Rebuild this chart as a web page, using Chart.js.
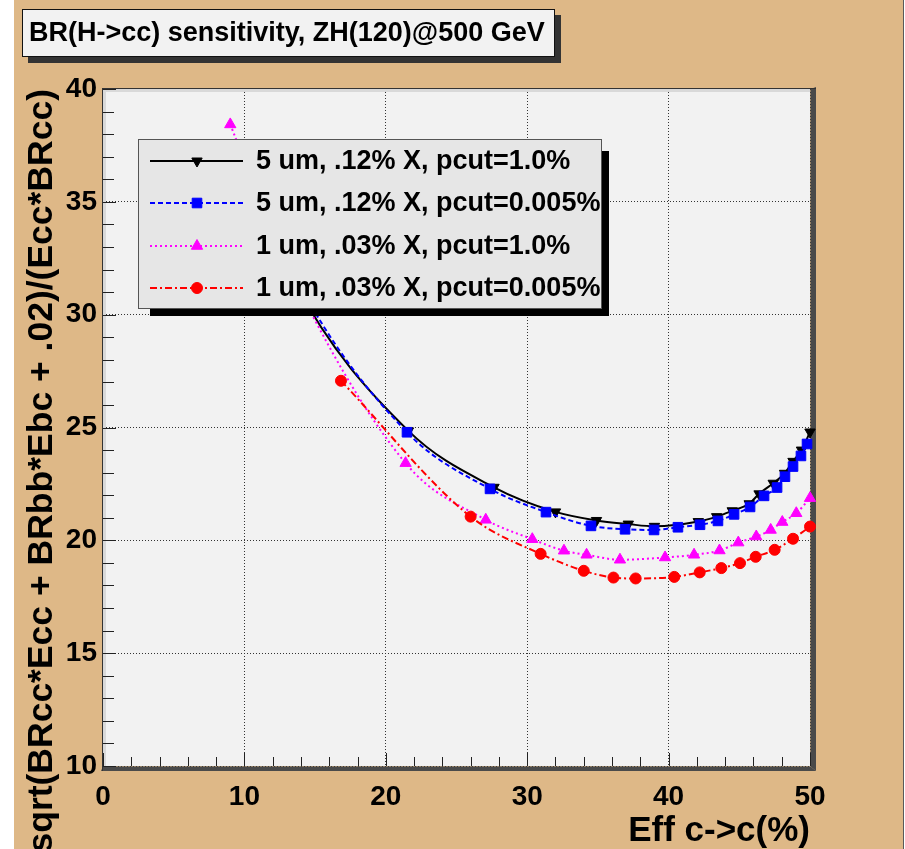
<!DOCTYPE html>
<html>
<head>
<meta charset="utf-8">
<script src="https://cdn.jsdelivr.net/npm/chart.js@4.4.0/dist/chart.umd.min.js"></script>
<style>
html,body{margin:0;padding:0;background:#ffffff;}
#wrap{width:905px;height:849px;position:relative;overflow:hidden;}
canvas{display:block;}
</style>
</head>
<body>
<div id="wrap"><canvas id="c" width="905" height="849"></canvas></div>
<script>
// ---------------- data ----------------
const chartTitle = 'BR(H->cc) sensitivity, ZH(120)@500 GeV';
const xAxisTitle = 'Eff c->c(%)';
const yAxisTitle = 'sqrt(BRcc*Ecc + BRbb*Ebc + .02)/(Ecc*BRcc)';
const xTickValues = [0, 10, 20, 30, 40, 50];
const yTickValues = [10, 15, 20, 25, 30, 35, 40];
const seriesNames = [
  '5 um, .12% X, pcut=1.0%',
  '5 um, .12% X, pcut=0.005%',
  '1 um, .03% X, pcut=1.0%',
  '1 um, .03% X, pcut=0.005%'
];
const blackX = [11.5, 13.5, 21.6, 27.65, 32.0, 34.9, 37.15, 39.0, 42.1, 43.4, 44.5, 45.7, 46.4, 47.4, 48.2, 48.8, 49.4, 50.0];
const blackY = [34.6, 31.5, 24.85, 22.35, 21.26, 20.88, 20.72, 20.62, 20.83, 21.05, 21.31, 21.62, 22.06, 22.53, 22.97, 23.5, 24.0, 24.8];
const blueX = [11.5, 13.5, 21.5, 27.37, 31.33, 34.51, 36.92, 38.97, 40.66, 42.22, 43.49, 44.63, 45.76, 46.75, 47.67, 48.23, 48.80, 49.36, 49.79];
const blueY = [34.9, 31.8, 24.79, 22.28, 21.25, 20.64, 20.49, 20.46, 20.58, 20.69, 20.86, 21.15, 21.48, 21.97, 22.34, 22.82, 23.27, 23.74, 24.27];
const magentaX = [9.0, 12.5, 21.4, 27.07, 30.36, 32.6, 34.2, 36.56, 39.75, 41.8, 43.6, 44.93, 46.2, 47.22, 48.04, 49.03, 50.0];
const magentaY = [38.43, 32.9, 23.42, 20.91, 20.05, 19.54, 19.36, 19.14, 19.24, 19.36, 19.55, 19.9, 20.17, 20.46, 20.81, 21.2, 21.87];
const redX = [16.83, 26.0, 30.95, 34.0, 36.1, 37.67, 40.4, 42.2, 43.73, 45.05, 46.16, 47.5, 48.8, 50.0];
const redY = [27.07, 21.05, 19.4, 18.65, 18.35, 18.31, 18.38, 18.58, 18.77, 18.99, 19.27, 19.58, 20.07, 20.61];

// ---------------- styles ----------------
const FONT = '"Liberation Sans", Arial, Helvetica, sans-serif';
const styles = [
  {color:'#000000', dash:[], pointStyle:'triangle', rotation:180, radius:6},
  {color:'#0000ff', dash:[5,3], pointStyle:'rect', rotation:0, radius:6.8},
  {color:'#ff00ff', dash:[2,3], pointStyle:'triangle', rotation:0, radius:6.5},
  {color:'#ff0000', dash:[7,3,2,3], pointStyle:'circle', rotation:0, radius:5.5}
];
const seriesX = [blackX, blueX, magentaX, redX];
const seriesY = [blackY, blueY, magentaY, redY];

function makeDataset(i) {
  const s = styles[i];
  return {
    label: seriesNames[i],
    data: seriesX[i].map((x, k) => ({x: x, y: seriesY[i][k]})),
    borderColor: s.color,
    backgroundColor: s.color,
    borderWidth: 2,
    borderDash: s.dash,
    pointStyle: s.pointStyle,
    pointRotation: s.rotation,
    pointRadius: s.radius,
    pointBorderWidth: 1,
    pointBorderColor: s.color,
    pointBackgroundColor: s.color,
    cubicInterpolationMode: 'monotone',
    fill: false,
    clip: false,
    order: 4 - i
  };
}

function drawMarker(ctx, s, x, y) {
  ctx.fillStyle = s.color;
  ctx.strokeStyle = s.color;
  ctx.lineWidth = 1;
  ctx.setLineDash([]);
  if (Chart.helpers && Chart.helpers.drawPoint) {
    Chart.helpers.drawPoint(ctx, {pointStyle: s.pointStyle, radius: s.radius, rotation: s.rotation, borderWidth: 1}, x, y);
  }
}

const rootFrame = {
  id: 'rootFrame',
  beforeDraw(chart) {
    const {ctx, chartArea: a} = chart;
    ctx.save();
    ctx.fillStyle = '#ffffff';
    ctx.fillRect(0, 0, chart.width, chart.height);
    ctx.fillStyle = '#deb887';
    ctx.fillRect(14, 0, 889, chart.height);
    ctx.fillStyle = '#5a5a5a';
    ctx.fillRect(903, 0, 1, chart.height);
    ctx.fillStyle = '#f2f2f2';
    ctx.fillRect(a.left, a.top, a.right - a.left, a.bottom - a.top);
    ctx.restore();
  },
  beforeDatasetsDraw(chart) {
    const {ctx, chartArea: a, scales} = chart;
    const xs = scales.x, ys = scales.y;
    ctx.save();
    ctx.fillStyle = '#d9d9d9';
    ctx.fillRect(a.left, a.top, a.right - a.left, 3);
    ctx.fillRect(a.left, a.top, 3, a.bottom - a.top);
    ctx.fillStyle = '#4a4a4a';
    ctx.beginPath();
    ctx.moveTo(a.right + 0.5, a.top);
    ctx.lineTo(a.right + 6, a.top - 2);
    ctx.lineTo(a.right + 6, a.bottom + 5);
    ctx.lineTo(a.right + 0.5, a.bottom + 0.5);
    ctx.closePath();
    ctx.fill();
    ctx.beginPath();
    ctx.moveTo(a.left, a.bottom + 0.5);
    ctx.lineTo(a.right + 0.5, a.bottom + 0.5);
    ctx.lineTo(a.right + 6, a.bottom + 5);
    ctx.lineTo(a.left - 2, a.bottom + 5);
    ctx.closePath();
    ctx.fill();
    ctx.fillStyle = '#333333';
    ctx.fillRect(a.left - 1, a.top - 1, (a.right + 6) - (a.left - 1), 1);
    ctx.fillRect(a.left - 1, a.top - 1, 1, (a.bottom + 5) - (a.top - 1));
    ctx.strokeStyle = '#222222';
    ctx.lineWidth = 1;
    ctx.beginPath();
    for (let v = ys.min; v <= ys.max + 1e-9; v += 1) {
      const py = Math.round(ys.getPixelForValue(v)) + 0.5;
      const len = (Math.abs(v % 5) < 1e-9) ? 13 : 11;
      ctx.moveTo(a.left, py);
      ctx.lineTo(a.left + len, py);
    }
    for (let v = xs.min; v <= xs.max + 1e-9; v += 2) {
      const px = Math.round(xs.getPixelForValue(v)) + 0.5;
      const len = (Math.abs(v % 10) < 1e-9) ? 13 : 9;
      ctx.moveTo(px, a.bottom);
      ctx.lineTo(px, a.bottom - len);
    }
    ctx.stroke();
    ctx.restore();
  },
  afterDatasetsDraw(chart) {
    const ctx = chart.ctx;
    ctx.save();
    const lx = 138, ly = 139, lw = 464, lh = 170, sh = 7;
    ctx.fillStyle = '#000000';
    ctx.fillRect(lx + 12, ly + lh, lw - 12 + sh, sh);
    ctx.fillRect(lx + lw, ly + 12, sh, lh - 12 + sh);
    ctx.fillStyle = '#e6e6e6';
    ctx.fillRect(lx, ly, lw, lh);
    ctx.strokeStyle = '#555555';
    ctx.lineWidth = 1;
    ctx.strokeRect(lx + 0.5, ly + 0.5, lw - 1, lh - 1);
    const rows = [161, 203, 246, 288];
    ctx.font = 'bold 27px ' + FONT;
    ctx.textBaseline = 'middle';
    ctx.textAlign = 'left';
    for (let i = 0; i < 4; i++) {
      const s = styles[i];
      const yy = rows[i];
      ctx.strokeStyle = s.color;
      ctx.lineWidth = 2;
      ctx.setLineDash(s.dash);
      ctx.beginPath();
      ctx.moveTo(150, yy);
      ctx.lineTo(243, yy);
      ctx.stroke();
      drawMarker(ctx, s, 197, yy);
      ctx.fillStyle = '#000000';
      ctx.fillText(seriesNames[i], 256, yy + 1);
    }
    ctx.restore();
  },
  afterDraw(chart) {
    const ctx = chart.ctx;
    ctx.save();
    const bx = 22, by = 9, bw = 533, bh = 48, sh = 6;
    ctx.fillStyle = '#333333';
    ctx.fillRect(bx + sh, by + sh, bw, bh);
    ctx.fillStyle = '#f2f2f2';
    ctx.fillRect(bx, by, bw, bh);
    ctx.strokeStyle = '#111111';
    ctx.lineWidth = 1;
    ctx.strokeRect(bx + 0.5, by + 0.5, bw - 1, bh - 1);
    ctx.fillStyle = '#000000';
    ctx.font = 'bold 27px ' + FONT;
    ctx.textBaseline = 'middle';
    ctx.textAlign = 'left';
    ctx.fillText(chartTitle, 29, by + bh / 2 + 1);
    ctx.restore();
  }
};

const tickFont = {family: FONT, size: 28, weight: 'bold', lineHeight: 1.2};

new Chart(document.getElementById('c'), {
  type: 'line',
  data: {datasets: [0, 1, 2, 3].map(makeDataset)},
  plugins: [rootFrame],
  options: {
    responsive: false,
    animation: false,
    events: [],
    layout: {padding: {left: 0, right: 95, top: 89, bottom: 0}},
    plugins: {legend: {display: false}, tooltip: {enabled: false}, title: {display: false}},
    scales: {
      x: {
        type: 'linear',
        position: 'bottom',
        min: 0, max: 50,
        afterBuildTicks: (s) => { s.ticks = xTickValues.map(v => ({value: v})); },
        afterFit: (s) => { s.height = 83; },
        ticks: {color: '#000', font: tickFont, padding: 14, maxRotation: 0, autoSkip: false},
        grid: {color: '#333333', lineWidth: 1, drawTicks: false},
        border: {display: false, dash: [1, 2]},
        title: {display: true, text: xAxisTitle, align: 'end', color: '#000',
                font: {family: FONT, size: 35, weight: 'bold', lineHeight: 1}, padding: {top: 0, bottom: 0}}
      },
      y: {
        type: 'linear',
        position: 'left',
        min: 10, max: 40,
        afterBuildTicks: (s) => { s.ticks = yTickValues.map(v => ({value: v})); },
        afterFit: (s) => { s.width = 103; },
        ticks: {color: '#000', font: tickFont, padding: 6, autoSkip: false},
        grid: {color: '#333333', lineWidth: 1, drawTicks: false},
        border: {display: false, dash: [1, 2]},
        title: {display: true, text: yAxisTitle, align: 'end', color: '#000',
                font: {family: FONT, size: 35.5, weight: 'bold', lineHeight: 1}, padding: {top: 24, bottom: 0}}
      }
    }
  }
});
</script>
</body>
</html>
